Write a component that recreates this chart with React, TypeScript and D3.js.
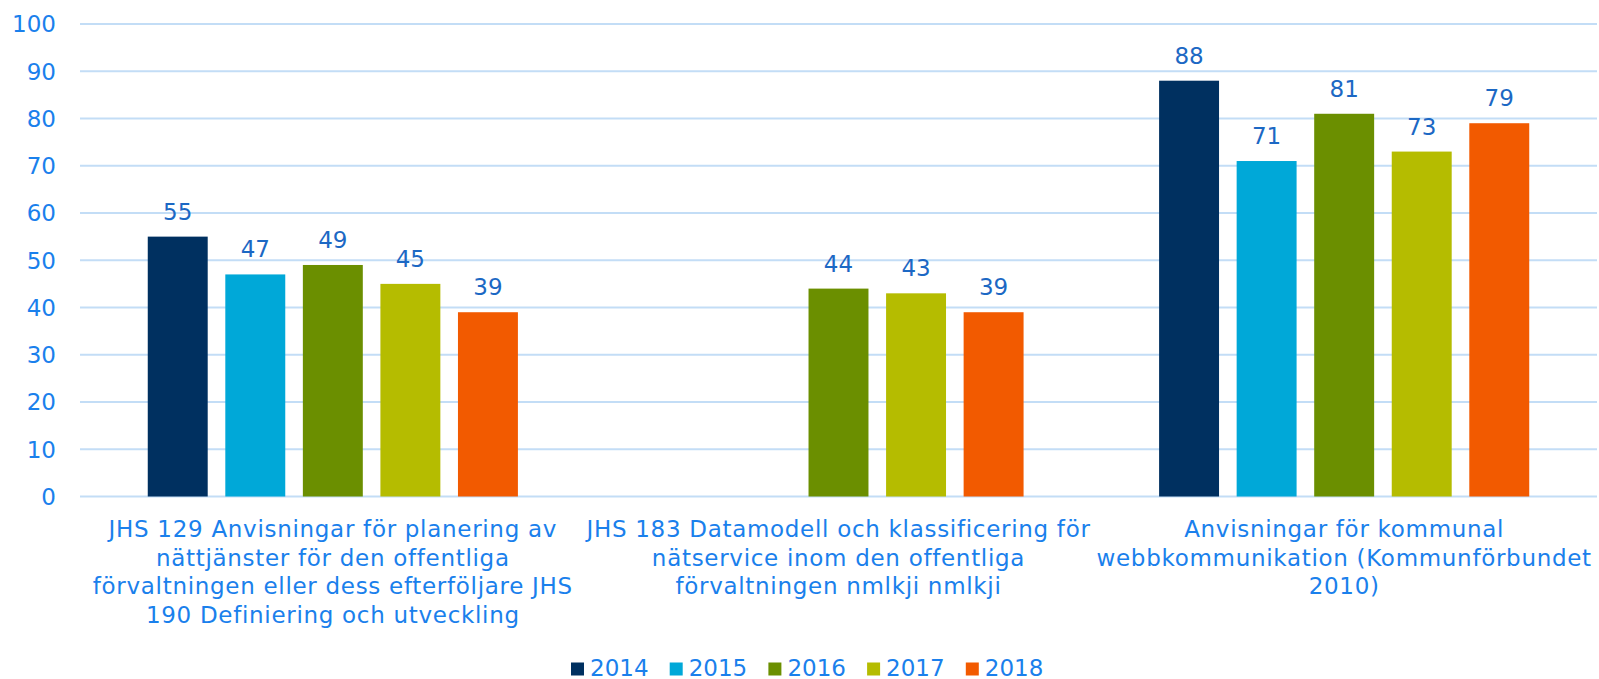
import React from "react";
import * as d3 from "d3";

const categories = ["c1", "c2", "c3"];
const categoryLabels: string[][] = [
  [
    "JHS 129 Anvisningar för planering av",
    "nättjänster för den offentliga",
    "förvaltningen eller dess efterföljare JHS",
    "190 Definiering och utveckling",
  ],
  [
    "JHS 183 Datamodell och klassificering för",
    "nätservice inom den offentliga",
    "förvaltningen nmlkji nmlkji",
  ],
  [
    "Anvisningar för kommunal",
    "webbkommunikation (Kommunförbundet",
    "2010)",
  ],
];
const years = ["2014", "2015", "2016", "2017", "2018"];
const values2014: (number | null)[] = [55, null, 88];
const values2015: (number | null)[] = [47, null, 71];
const values2016: (number | null)[] = [49, 44, 81];
const values2017: (number | null)[] = [45, 43, 73];
const values2018: (number | null)[] = [39, 39, 79];
const seriesValues = [values2014, values2015, values2016, values2017, values2018];
const colors = ["#003060", "#00A8D8", "#6B8F00", "#B5BC00", "#F25A00"];
const yTicks = [0, 10, 20, 30, 40, 50, 60, 70, 80, 90, 100];

const W = 1599;
const H = 679;
const FONT = "Verdana, 'DejaVu Sans', sans-serif";

export default function App() {
  const left = 80;
  const right = 1597;
  const top = 24;
  const bottom = 496.5;

  const y = d3.scaleLinear().domain([0, 100]).range([bottom, top]);
  const x0 = d3
    .scaleBand<string>()
    .domain(categories)
    .range([left, right])
    .paddingInner(0.268)
    .paddingOuter(0.134);
  const x1 = d3
    .scaleBand<string>()
    .domain(years)
    .range([0, x0.bandwidth()])
    .paddingInner(0.227)
    .paddingOuter(0);
  const xc = d3.scaleBand<string>().domain(categories).range([left, right]);

  const legendStep = 98.7;
  const legendStart = 571;

  return (
    <svg
      width={W}
      height={H}
      style={{ position: "absolute", left: 0, top: 0, background: "#fff" }}
      fontFamily={FONT}
    >
      {yTicks.map((t) => (
        <g key={t}>
          <line x1={left} x2={right} y1={y(t)} y2={y(t)} stroke="#C3DDF6" strokeWidth={2} />
          <text
            x={56}
            y={y(t)}
            dy="0.36em"
            textAnchor="end"
            fontSize={23}
            fill="#1A80EC"
          >
            {t}
          </text>
        </g>
      ))}
      {categories.map((c, ci) => (
        <g key={c} transform={`translate(${x0(c)},0)`}>
          {years.map((yr, si) => {
            const v = seriesValues[si][ci];
            if (v === null) return null;
            return (
              <g key={yr}>
                <rect
                  x={x1(yr)}
                  y={y(v)}
                  width={x1.bandwidth()}
                  height={y(0) - y(v)}
                  fill={colors[si]}
                />
                <text
                  x={(x1(yr) as number) + x1.bandwidth() / 2}
                  y={y(v) - 17}
                  textAnchor="middle"
                  fontSize={23}
                  fill="#1C68C4"
                >
                  {v}
                </text>
              </g>
            );
          })}
        </g>
      ))}
      {categories.map((c, ci) => (
        <text
          key={c}
          x={(xc(c) as number) + xc.bandwidth() / 2}
          y={537}
          textAnchor="middle"
          fontSize={23}
          letterSpacing={0.7}
          fill="#1A80EC"
        >
          {categoryLabels[ci].map((line, li) => (
            <tspan key={li} x={(xc(c) as number) + xc.bandwidth() / 2} dy={li === 0 ? 0 : 28.7}>
              {line}
            </tspan>
          ))}
        </text>
      ))}
      {years.map((yr, i) => (
        <g key={yr} transform={`translate(${legendStart + i * legendStep},0)`}>
          <rect x={0} y={662.5} width={13} height={13} fill={colors[i]} />
          <text x={19} y={676} fontSize={23} fill="#1A80EC">
            {yr}
          </text>
        </g>
      ))}
    </svg>
  );
}
